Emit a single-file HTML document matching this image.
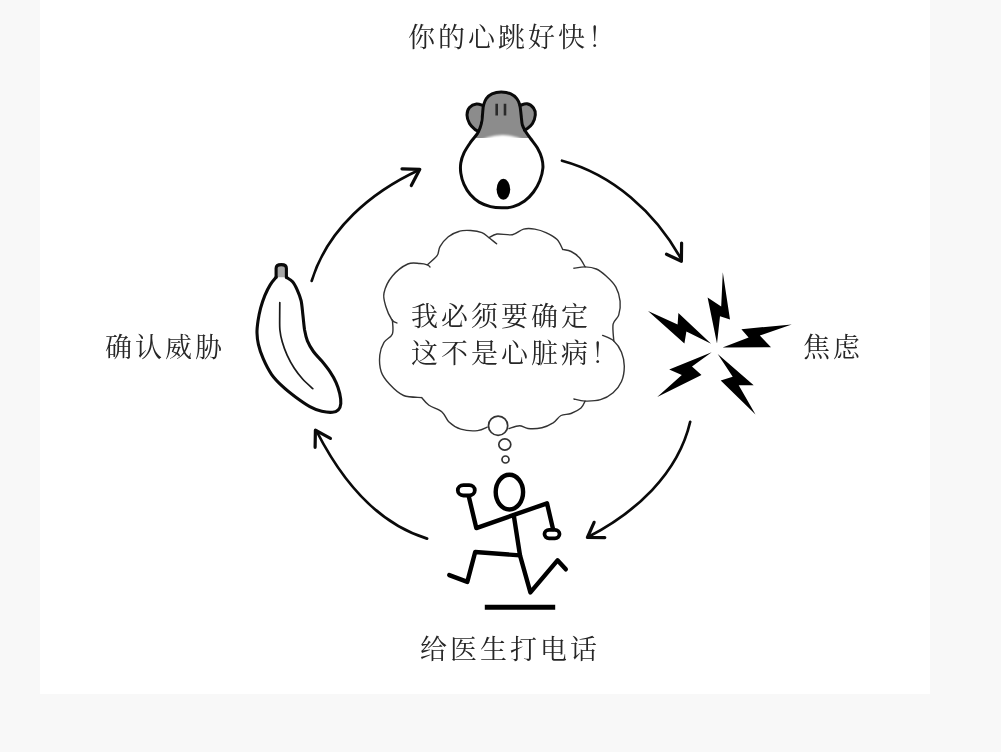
<!DOCTYPE html>
<html lang="zh-CN">
<head>
<meta charset="utf-8">
<title>焦虑循环</title>
<style>
html,body{margin:0;padding:0;}
body{width:1001px;height:752px;background:#f8f8f8;overflow:hidden;position:relative;font-family:"Liberation Serif","Noto Serif CJK SC",serif;}
.card{position:absolute;left:40px;top:0;width:890px;height:694px;background:#fff;}
svg{position:absolute;left:0;top:0;filter:blur(0.35px);}
.t{position:absolute;white-space:nowrap;font-size:27px;line-height:30px;height:30px;letter-spacing:3px;color:#262626;font-weight:400;will-change:transform;}
</style>
</head>
<body>
<div class="card"></div>
<svg width="1001" height="752" viewBox="0 0 1001 752">
<g fill="none" stroke="#333" stroke-width="1.4" stroke-linecap="round" stroke-linejoin="round">
<path d="M397.0 323.0C396.2 322.5 393.8 322.7 392.0 320.0C390.2 317.3 387.3 311.5 386.0 307.0C384.7 302.5 382.9 298.2 384.0 293.0C385.1 287.8 388.4 280.8 392.4 276.0C396.4 271.2 403.2 266.1 407.8 264.0C412.4 261.9 416.8 263.4 420.0 263.5C423.2 263.6 425.6 264.2 427.3 264.8C429.0 265.4 429.6 266.6 430.0 267.0"/>
<path d="M427.3 264.8C428.9 263.3 435.0 258.7 437.1 255.7C439.2 252.7 438.1 249.8 440.0 246.6C441.9 243.4 445.1 239.4 448.3 236.8C451.6 234.2 455.8 232.2 459.5 231.2C463.2 230.1 467.0 230.3 470.7 230.5C474.4 230.7 478.9 231.4 481.9 232.6C484.9 233.8 486.4 235.6 488.9 237.5C491.3 239.4 495.3 242.8 496.6 243.8"/>
<path d="M489.0 237.8C490.3 237.2 493.1 234.5 497.0 234.0C500.9 233.5 508.0 235.5 512.4 234.7C516.8 233.9 519.9 230.0 523.6 229.1C527.3 228.2 531.1 228.5 534.8 229.1C538.5 229.7 542.2 230.8 545.9 232.6C549.6 234.3 554.3 236.8 557.1 239.6C559.9 242.4 561.8 247.8 562.7 249.4"/>
<path d="M562.7 249.4C564.1 249.8 568.3 250.1 571.1 251.5C573.9 252.9 577.2 255.2 579.5 257.8C581.8 260.4 584.2 265.4 585.1 266.9"/>
<path d="M573.9 268.3C575.8 268.1 581.4 266.8 585.1 266.9C588.8 267.0 592.8 267.5 596.3 269.0C599.8 270.5 602.8 273.0 606.1 276.0C609.4 279.0 613.6 282.9 615.9 287.1C618.2 291.3 619.6 296.4 620.1 301.1C620.6 305.8 619.9 311.2 618.7 315.1C617.5 319.0 613.9 319.9 613.1 324.2C612.3 328.5 613.7 338.2 613.8 341.0"/>
<path d="M602.6 335.4C604.5 336.3 610.6 338.2 613.8 341.0C616.9 343.8 619.8 348.0 621.5 352.2C623.2 356.4 624.3 361.3 624.3 366.2C624.3 371.1 623.4 377.1 621.5 381.5C619.6 385.9 616.6 389.7 613.1 392.7C609.6 395.7 605.2 398.3 600.5 399.7C595.8 401.1 589.5 401.2 585.1 401.1C580.7 401.0 575.8 399.4 573.9 399.0"/>
<path d="M585.1 401.1C584.4 402.2 583.4 405.9 581.0 408.0C578.6 410.1 574.3 412.2 571.0 413.5C567.7 414.8 564.0 413.9 561.0 415.5C558.0 417.1 556.3 420.8 553.1 422.9C549.9 424.9 546.1 426.9 541.9 427.8C537.7 428.7 531.6 428.9 527.9 428.5C524.2 428.1 522.6 425.7 519.5 425.7C516.4 425.7 510.8 428.0 509.0 428.5"/>
<path d="M487.3 427.1C485.7 427.7 482.0 430.2 477.6 430.6C473.2 431.0 465.6 430.6 460.8 429.2C456.0 427.8 452.1 424.9 449.0 422.0C445.9 419.1 445.3 414.8 442.0 412.0C438.7 409.2 432.4 407.7 429.0 405.3C425.6 402.9 422.9 398.9 421.7 397.6"/>
<path d="M421.7 397.6C418.7 397.2 409.0 397.7 403.6 395.5C398.2 393.3 393.3 388.3 389.6 384.3C385.9 380.3 382.8 376.6 381.2 371.7C379.6 366.8 379.3 359.9 379.8 355.0C380.3 350.1 381.9 345.9 384.0 342.4C386.1 338.9 391.0 337.7 392.4 334.0C393.8 330.3 392.4 322.3 392.4 320.0"/>
<circle cx="498.1" cy="425.7" r="9.6" stroke-width="1.7"/>
<ellipse cx="504.8" cy="444.5" rx="6" ry="5.6" stroke-width="1.7"/>
<circle cx="505.5" cy="459.5" r="3.5" stroke-width="1.7"/>
</g>
<defs><filter id="bl" x="-20%" y="-20%" width="140%" height="140%"><feGaussianBlur stdDeviation="0.8"/></filter><clipPath id="hc"><path d="M483.6 105.0C484.2 103.1 484.9 100.5 486.3 98.6C487.7 96.7 489.5 94.9 492.0 93.8C494.5 92.7 498.1 92.0 501.2 92.0C504.3 92.0 508.2 92.7 510.8 93.8C513.4 94.9 515.3 96.7 516.8 98.6C518.3 100.5 519.1 102.3 519.8 105.0C520.5 107.7 520.7 111.7 521.1 115.0C521.5 118.3 521.6 122.2 522.4 125.0C523.2 127.8 524.5 129.7 525.9 132.0C527.3 134.3 529.0 136.4 530.9 139.0C532.8 141.6 535.5 144.7 537.3 147.8C539.1 151.0 540.8 154.5 541.7 157.9C542.6 161.3 543.2 164.2 542.9 168.0C542.6 171.8 541.4 176.7 539.8 180.7C538.2 184.7 536.0 188.6 533.5 192.0C531.0 195.4 528.0 198.5 524.6 200.9C521.2 203.3 517.0 205.4 513.2 206.6C509.4 207.8 505.7 207.8 501.9 207.8C498.1 207.8 494.3 207.6 490.5 206.6C486.7 205.6 482.5 204.1 479.1 202.1C475.7 200.1 472.8 197.5 470.3 194.6C467.8 191.7 465.6 188.0 464.0 184.4C462.4 180.8 461.3 176.7 460.8 173.1C460.3 169.5 460.3 166.4 460.8 163.0C461.3 159.6 462.4 156.3 464.0 152.9C465.6 149.5 468.1 145.9 470.3 142.7C472.5 139.5 475.6 136.4 477.2 133.9C478.8 131.4 479.4 129.8 480.2 127.5C481.0 125.2 481.6 122.9 482.0 120.0C482.4 117.1 482.6 112.5 482.9 110.0C483.2 107.5 483.0 106.9 483.6 105.0Z"/><path d="M483.0 105.5C481.9 105.2 478.8 103.7 476.5 104.0C474.2 104.3 471.1 105.7 469.5 107.5C467.9 109.3 467.0 112.3 467.0 115.0C467.0 117.7 468.2 121.1 469.5 123.5C470.8 125.9 473.5 128.2 475.0 129.5C476.5 130.8 477.9 130.8 478.5 131.0Z"/><path d="M520.0 105.5C521.2 105.2 524.8 103.4 527.0 103.8C529.2 104.2 532.1 106.1 533.5 108.0C534.9 109.9 535.5 112.4 535.3 115.0C535.1 117.6 533.9 121.2 532.5 123.5C531.1 125.8 528.4 127.7 527.0 128.8C525.6 129.9 524.8 129.8 524.4 130.0Z"/></clipPath></defs>
<g clip-path="url(#hc)"><rect x="455" y="85" width="95" height="53" fill="#8c8c8c"/><ellipse cx="502.5" cy="168" rx="40" ry="33" fill="#fff" filter="url(#bl)"/></g>
<g fill="none" stroke="#0a0a0a" stroke-width="3" stroke-linecap="round" stroke-linejoin="round">
<path d="M483.6 105.0C484.2 103.1 484.9 100.5 486.3 98.6C487.7 96.7 489.5 94.9 492.0 93.8C494.5 92.7 498.1 92.0 501.2 92.0C504.3 92.0 508.2 92.7 510.8 93.8C513.4 94.9 515.3 96.7 516.8 98.6C518.3 100.5 519.1 102.3 519.8 105.0C520.5 107.7 520.7 111.7 521.1 115.0C521.5 118.3 521.6 122.2 522.4 125.0C523.2 127.8 524.5 129.7 525.9 132.0C527.3 134.3 529.0 136.4 530.9 139.0C532.8 141.6 535.5 144.7 537.3 147.8C539.1 151.0 540.8 154.5 541.7 157.9C542.6 161.3 543.2 164.2 542.9 168.0C542.6 171.8 541.4 176.7 539.8 180.7C538.2 184.7 536.0 188.6 533.5 192.0C531.0 195.4 528.0 198.5 524.6 200.9C521.2 203.3 517.0 205.4 513.2 206.6C509.4 207.8 505.7 207.8 501.9 207.8C498.1 207.8 494.3 207.6 490.5 206.6C486.7 205.6 482.5 204.1 479.1 202.1C475.7 200.1 472.8 197.5 470.3 194.6C467.8 191.7 465.6 188.0 464.0 184.4C462.4 180.8 461.3 176.7 460.8 173.1C460.3 169.5 460.3 166.4 460.8 163.0C461.3 159.6 462.4 156.3 464.0 152.9C465.6 149.5 468.1 145.9 470.3 142.7C472.5 139.5 475.6 136.4 477.2 133.9C478.8 131.4 479.4 129.8 480.2 127.5C481.0 125.2 481.6 122.9 482.0 120.0C482.4 117.1 482.6 112.5 482.9 110.0C483.2 107.5 483.0 106.9 483.6 105.0Z"/>
<path d="M483.0 105.5C481.9 105.2 478.8 103.7 476.5 104.0C474.2 104.3 471.1 105.7 469.5 107.5C467.9 109.3 467.0 112.3 467.0 115.0C467.0 117.7 468.2 121.1 469.5 123.5C470.8 125.9 473.5 128.2 475.0 129.5C476.5 130.8 477.9 130.8 478.5 131.0"/>
<path d="M520.0 105.5C521.2 105.2 524.8 103.4 527.0 103.8C529.2 104.2 532.1 106.1 533.5 108.0C534.9 109.9 535.5 112.4 535.3 115.0C535.1 117.6 533.9 121.2 532.5 123.5C531.1 125.8 528.4 127.7 527.0 128.8C525.6 129.9 524.8 129.8 524.4 130.0"/>
</g>
<path d="M496.7 103.8V115.6M505 103.8V115.6" stroke="#2a2a2a" stroke-width="2.6" stroke-linecap="butt" fill="none"/>
<ellipse cx="503.4" cy="189.3" rx="6.8" ry="10.5" fill="#000"/>
<g fill="none" stroke="#0a0a0a" stroke-width="2.7" stroke-linecap="round" stroke-linejoin="round">
<path d="M562.0 160.7C613.0 174.4 655.2 212.5 680.6 258.0"/>
<path stroke-width="3.2" d="M681.6 243.0L681.4 261.3L666.5 254.2"/>
<path d="M690.2 421.8C677.9 474.5 634.8 512.8 588.5 536.8"/>
<path stroke-width="3.2" d="M594.1 522.3L587.4 537.5L604.8 537.6"/>
<path d="M427.1 538.6C374.7 522.6 340.1 477.3 316.5 431.0"/>
<path stroke-width="3.2" d="M315.1 447.3L315.4 430.2L330.4 438.4"/>
<path d="M311.7 280.9C327.5 229.0 371.3 192.1 419.0 170.0"/>
<path stroke-width="3.2" d="M402.0 168.9L419.8 169.3L411.3 185.6"/>
</g>
<path d="M276.1 277.3V268.2Q276.1 264.6 281.3 264.6Q286.4 264.6 286.4 268.2V277.3Z" fill="#a8a8a8"/>
<g fill="none" stroke="#0a0a0a" stroke-width="3.1" stroke-linecap="round" stroke-linejoin="round">
<path d="M276.1 277.3C275.1 278.6 272.1 281.8 270.2 284.8C268.3 287.8 266.5 291.5 264.9 295.4C263.3 299.3 261.8 303.9 260.6 308.2C259.5 312.5 258.6 316.9 258.0 321.0C257.4 325.1 256.9 329.1 257.0 333.0C257.1 336.9 257.4 340.1 258.4 344.4C259.4 348.7 261.0 353.7 263.2 358.7C265.4 363.7 268.3 369.7 271.5 374.3C274.7 378.9 278.3 382.4 282.3 386.2C286.3 390.0 290.9 393.6 295.5 397.0C300.1 400.4 305.4 404.2 309.8 406.6C314.2 409.0 318.0 410.4 321.8 411.3C325.6 412.2 329.8 412.6 332.5 412.3C335.2 412.1 336.9 411.2 338.3 409.8C339.7 408.4 340.6 406.3 340.8 403.6C341.0 400.9 340.5 396.9 339.7 393.4C338.9 389.9 337.7 386.2 336.1 382.6C334.5 379.0 332.5 375.5 330.1 371.9C327.7 368.3 324.6 364.5 321.8 361.1C319.0 357.7 315.8 354.9 313.4 351.5C311.0 348.1 308.9 344.4 307.4 340.8C305.9 337.2 305.4 334.3 304.6 330.0C303.9 325.7 303.5 319.9 302.9 315.0C302.3 310.1 302.0 304.8 301.1 300.7C300.2 296.6 298.7 293.2 297.3 290.1C295.9 287.0 294.4 283.9 292.6 281.8C290.8 279.7 287.4 278.1 286.4 277.3"/>
<path d="M276.1 277.3V268.2Q276.1 264.6 281.3 264.6Q286.4 264.6 286.4 268.2V277.3"/>
</g>
<path d="M279.8 302.5C279.8 304.8 279.7 311.4 279.7 316.0C279.7 320.6 279.5 325.7 279.9 330.0C280.3 334.3 281.1 337.8 282.3 342.0C283.5 346.2 285.1 350.7 287.1 355.1C289.1 359.5 291.7 364.3 294.3 368.3C296.9 372.3 299.5 375.6 302.6 379.0C305.7 382.4 311.1 387.0 312.8 388.6" fill="none" stroke="#1a1a1a" stroke-width="1.7" stroke-linecap="round"/>
<g fill="#000">
<path d="M722.8 272.2L730.0 319.4L720.0 316.2L717.0 343.5L707.6 297.4L721.2 306.6Z"/>
<path d="M791.7 324.4L741.4 329.2L748.6 337.6L722.6 347.6L771.0 347.2L759.8 335.6Z"/>
<path d="M717.7 354.0L753.7 385.2L738.7 385.2L755.5 414.5L720.7 380.4L732.7 376.8Z"/>
<path d="M711.7 352.2L669.2 369.6L681.8 375.0L657.2 397.1L701.5 375.0L692.0 366.6Z"/>
<path d="M648.0 311.0L677.6 324.6L678.4 313.0L711.1 343.8L686.4 331.4L684.4 343.4Z"/>
</g>
<g fill="none" stroke="#000" stroke-width="4.4" stroke-linecap="round" stroke-linejoin="round">
<ellipse cx="509.4" cy="492.1" rx="13.7" ry="17.4"/>
<rect x="457.8" y="485.1" width="17" height="10.4" rx="5.6" ry="5.2" stroke-width="3.8"/>
<rect x="544.5" y="529.9" width="15" height="8.4" rx="4.6" ry="4.2" stroke-width="3.8"/>
<path d="M468.8 496.5L476.3 528.1L547 503.3L553 529"/>
<path d="M513.9 516.1L520 555.4L530.4 592.4L557.5 560.3L565.8 569.3"/>
<path d="M520 555.4L475.2 552L467.3 581.9L449.3 575.1"/>
</g>
<path d="M484.8 607.2H555.2" stroke="#000" stroke-width="5" stroke-linecap="butt" fill="none"/>
</svg>
<div class="t" style="left:407.5px;top:23.2px;">你的心跳好快！</div>
<div class="t" style="left:105px;top:333px;">确认威胁</div>
<div class="t" style="left:802.5px;top:333px;">焦虑</div>
<div class="t" style="left:420px;top:634.5px;">给医生打电话</div>
<div class="t" style="left:410.5px;top:301.5px;">我必须要确定</div>
<div class="t" style="left:410.5px;top:338.5px;">这不是心脏病！</div>
</body>
</html>
